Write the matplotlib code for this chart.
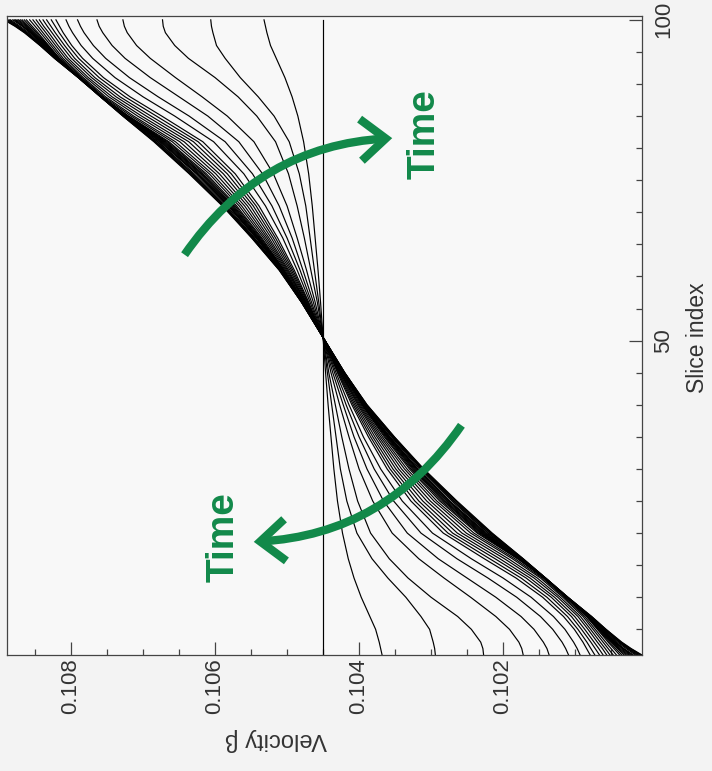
import numpy as np
import matplotlib.pyplot as plt
from matplotlib.patches import FancyArrowPatch
from matplotlib.ticker import MultipleLocator, FixedLocator

plt.rcParams['font.family'] = ['Liberation Sans', 'DejaVu Sans']

# slice positions read for the lower half of the bunch (profiles are antisymmetric about the centre)
slices_lower = [1, 2, 3, 5, 7, 10, 13, 16, 20, 25, 30, 35, 40, 45, 50.5]
beta_centre = 0.1045
n_slices = 100

# velocity drop below the centre value, in units of 1e-4, one list per time step
p01 = [0, 0, 0, 0, 0, 0, 0, 0, 0, 0, 0, 0, 0, 0, 0]
p02 = [8.2, 8.0, 7.8, 7.3, 6.5, 5.3, 4.3, 3.5, 2.7, 2.0, 1.5, 1.1, 0.7, 0.35, 0]
p03 = [15.6, 15.5, 15.3, 14.8, 13.6, 11.5, 9.0, 6.8, 4.7, 3.3, 2.4, 1.8, 1.2, 0.6, 0]
p04 = [22.3, 22.2, 21.9, 20.6, 18.7, 15.0, 11.8, 9.2, 6.6, 4.8, 3.6, 2.6, 1.7, 0.8, 0]
p05 = [27.8, 27.6, 27.2, 25.9, 24.0, 20.5, 16.8, 13.3, 9.6, 6.9, 5.0, 3.6, 2.3, 1.1, 0]
p06 = [31.4, 31.1, 30.6, 29.3, 27.5, 24.0, 20.0, 16.0, 11.7, 8.4, 6.1, 4.3, 2.8, 1.35, 0]
p07 = [34.1, 33.7, 33.2, 31.9, 30.2, 26.9, 22.9, 18.6, 13.6, 9.8, 7.1, 5.0, 3.2, 1.6, 0]
p08 = [35.7, 35.3, 34.8, 33.6, 32.0, 28.9, 25.0, 20.6, 15.2, 11.0, 8.0, 5.6, 3.6, 1.8, 0]
p09 = [37.1, 36.6, 36.1, 34.9, 33.4, 30.5, 26.8, 22.4, 16.7, 12.2, 8.9, 6.3, 4.0, 2.0, 0]
p10 = [37.75, 37.2, 36.65, 35.4, 33.95, 31.1, 27.5, 23.15, 17.35, 12.75, 9.3, 6.6, 4.2, 2.1, 0]
p11 = [38.4, 37.8, 37.2, 35.9, 34.5, 31.7, 28.2, 23.9, 18.0, 13.3, 9.7, 6.9, 4.4, 2.2, 0]
p12 = [38.9, 38.3, 37.65, 36.35, 34.95, 32.15, 28.75, 24.55, 18.65, 13.85, 10.1, 7.2, 4.6, 2.3, 0]
p13 = [39.4, 38.8, 38.1, 36.8, 35.4, 32.6, 29.3, 25.2, 19.3, 14.4, 10.5, 7.5, 4.8, 2.4, 0]
p14 = [39.85, 39.2, 38.5, 37.15, 35.75, 32.95, 29.75, 25.75, 19.9, 14.9, 10.9, 7.75, 4.95, 2.45, 0]
p15 = [40.3, 39.6, 38.9, 37.5, 36.1, 33.3, 30.2, 26.3, 20.5, 15.4, 11.3, 8.0, 5.1, 2.5, 0]
p16 = [40.75, 40.0, 39.25, 37.8, 36.35, 33.5, 30.45, 26.65, 20.95, 15.8, 11.65, 8.25, 5.25, 2.6, 0]
p17 = [41.2, 40.4, 39.6, 38.1, 36.6, 33.7, 30.7, 27.0, 21.4, 16.2, 12.0, 8.5, 5.4, 2.7, 0]
p18 = [41.5, 40.65, 39.8, 38.2, 36.65, 33.75, 30.7, 27.1, 21.6, 16.45, 12.2, 8.65, 5.45, 2.75, 0]
p19 = [41.8, 40.9, 40.0, 38.3, 36.7, 33.8, 30.7, 27.2, 21.8, 16.7, 12.4, 8.8, 5.5, 2.8, 0]
p20 = [42.05, 41.05, 40.15, 38.4, 36.8, 33.8, 30.75, 27.25, 21.95, 16.85, 12.55, 8.9, 5.55, 2.8, 0]
p21 = [42.3, 41.2, 40.3, 38.5, 36.9, 33.8, 30.8, 27.3, 22.1, 17.0, 12.7, 9.0, 5.6, 2.8, 0]
p22 = [42.5, 41.4, 40.4, 38.6, 36.9, 33.8, 30.8, 27.35, 22.25, 17.2, 12.85, 9.1, 5.65, 2.8, 0]
p23 = [42.7, 41.6, 40.5, 38.7, 36.9, 33.8, 30.8, 27.4, 22.4, 17.4, 13.0, 9.2, 5.7, 2.8, 0]
p24 = [42.9, 41.7, 40.6, 38.75, 36.95, 33.85, 30.8, 27.45, 22.55, 17.5, 13.1, 9.25, 5.75, 2.85, 0]
p25 = [43.1, 41.8, 40.7, 38.8, 37.0, 33.9, 30.8, 27.5, 22.7, 17.6, 13.2, 9.3, 5.8, 2.9, 0]
p26 = [43.4, 42.1, 40.9, 38.9, 37.1, 33.9, 30.8, 27.6, 22.9, 17.9, 13.4, 9.5, 5.9, 2.9, 0]
p27 = [43.6, 42.3, 41.1, 39.0, 37.1, 33.9, 30.9, 27.6, 23.0, 18.1, 13.6, 9.6, 5.9, 2.9, 0]
p28 = [43.8, 42.4, 41.2, 39.1, 37.2, 34.0, 30.9, 27.7, 23.2, 18.2, 13.7, 9.7, 6.0, 3.0, 0]
p29 = [44.0, 42.6, 41.3, 39.2, 37.2, 34.0, 30.9, 27.7, 23.3, 18.4, 13.8, 9.8, 6.0, 3.0, 0]
p30 = [44.2, 42.7, 41.4, 39.3, 37.3, 34.0, 30.9, 27.8, 23.4, 18.5, 13.9, 9.9, 6.1, 3.0, 0]
p31 = [44.3, 42.8, 41.5, 39.3, 37.3, 34.0, 30.9, 27.8, 23.5, 18.6, 14.0, 9.9, 6.1, 3.0, 0]
profiles = [p01, p02, p03, p04, p05, p06, p07, p08, p09, p10, p11, p12, p13, p14, p15, p16,
            p17, p18, p19, p20, p21, p22, p23, p24, p25, p26, p27, p28, p29, p30, p31]

beta_ticks = [0.102, 0.104, 0.106, 0.108]
slice_ticks = [50, 100]

green = '#12894a'
grey = '#333333'

fig = plt.figure(figsize=(7.12, 7.71), dpi=100, facecolor='#f3f3f3')
ax = fig.add_axes([7 / 712, 1 - 655 / 771, 635 / 712, 639 / 771])
ax.set_facecolor('#f8f8f8')

s_low = np.array(slices_lower)
s_full = np.concatenate([s_low, (n_slices + 1 - s_low)[::-1][1:]])
for p in profiles:
    d = np.array(p) * 1e-4
    d_full = np.concatenate([-d, d[::-1][1:]])
    ax.plot(beta_centre + d_full, s_full, color='black', lw=0.85, solid_joinstyle='round')

ax.set_xlim(0.10889, 0.10007)
ax.set_ylim(1, 100.6)

ax.xaxis.set_major_locator(FixedLocator(beta_ticks))
ax.xaxis.set_minor_locator(MultipleLocator(0.0005))
ax.set_xticklabels([f'{b:.3f}' for b in beta_ticks], rotation=90, fontsize=16, color=grey)
ax.yaxis.tick_right()
ax.yaxis.set_major_locator(FixedLocator(slice_ticks))
ax.yaxis.set_minor_locator(MultipleLocator(5))
ax.set_yticklabels([str(s) for s in slice_ticks], rotation=90, va='center', fontsize=16, color=grey)
ax.tick_params(which='both', direction='in', color='#444444', width=0.9)
ax.tick_params(which='major', length=9.5)
ax.tick_params(which='minor', length=4.3)
ax.tick_params(axis='x', which='both', top=False, bottom=True, pad=2)
ax.tick_params(axis='y', which='both', left=False, right=True, pad=8)
for sp in ax.spines.values():
    sp.set_color('#444444')
    sp.set_linewidth(0.9)

fig.text(697 / 712, 1 - 338 / 771, 'Slice index', rotation=90, ha='center', va='center',
         fontsize=16.5, color=grey)
fig.text(276 / 712, 1 - 740 / 771, 'Velocity β', rotation=180, ha='center', va='center',
         fontsize=17, color=grey)

def fig_xy(px, py):
    return (px / 712, 1 - py / 771)

for start, tip, label in [((183, 257), (395, 138), (425, 134)),
                          ((463, 423), (251, 542), (224, 537))]:
    arrow = FancyArrowPatch(fig_xy(*start), fig_xy(*tip), transform=fig.transFigure,
                            connectionstyle='arc3,rad=-0.25',
                            arrowstyle='->,head_length=18,head_width=15',
                            mutation_scale=1, lw=6, color=green, capstyle='butt',
                            joinstyle='miter')
    fig.patches.append(arrow)
    fig.text(*fig_xy(*label), 'Time', rotation=90, ha='center', va='center',
             fontsize=28, fontweight='bold', color=green)

fig.savefig('out.png', dpi=100, facecolor=fig.get_facecolor())
